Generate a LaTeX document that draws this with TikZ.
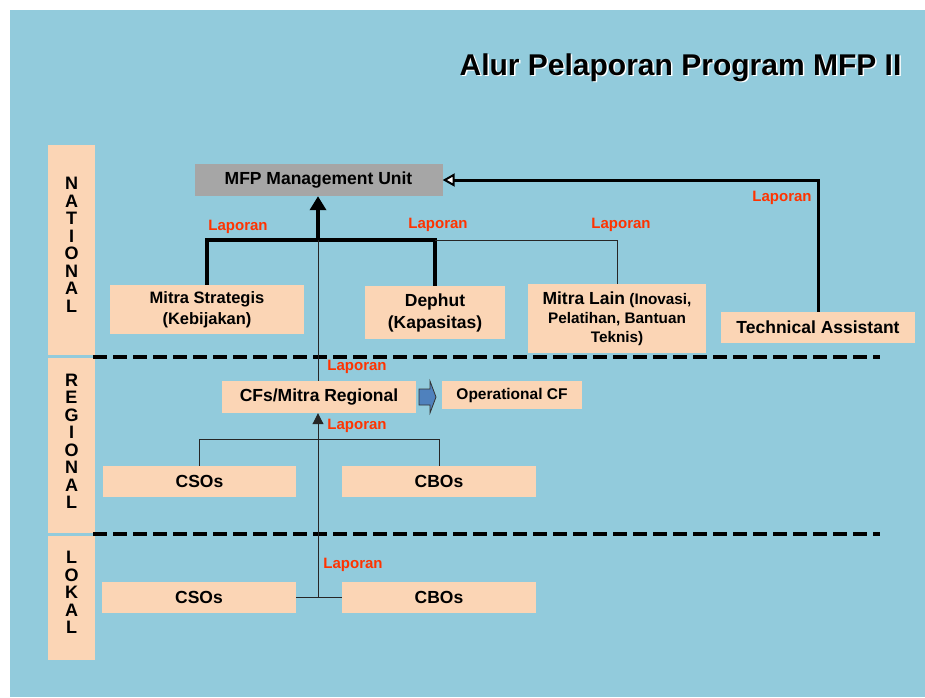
\documentclass[tikz,border=0pt]{standalone}
\usepackage{fontspec}
\setmainfont{Liberation Sans}
\usetikzlibrary{arrows.meta}
\definecolor{bgblue}{HTML}{92CBDC}
\definecolor{peach}{HTML}{FBD5B5}
\definecolor{mgray}{HTML}{A6A6A6}
\definecolor{lapred}{HTML}{FF3300}
\definecolor{opblue}{HTML}{4F81BD}
\begin{document}
\begin{tikzpicture}[x=1pt, y=-1pt]
    % Define styles
    \tikzstyle{box} = [fill=peach, inner sep=0pt, align=center, font=\fontsize{17.5}{22}\selectfont\bfseries]
    \tikzstyle{levelbox} = [fill=peach, inner sep=0pt, minimum width=47pt]
    \tikzstyle{levelname} = [align=center, inner sep=0pt, font=\fontsize{18}{17.5}\selectfont\bfseries]
    \tikzstyle{laporan} = [text=lapred, inner sep=0pt, font=\fontsize{15}{18}\selectfont\bfseries]
    \tikzstyle{thickline} = [line width=4pt]
    \tikzstyle{thinline} = [line width=1pt, black!85]
    \tikzstyle{levelsep} = [line width=4pt, dash pattern=on 14pt off 6pt]

    % Background and title
    \useasboundingbox (0,0) rectangle (925,697);
    \fill[bgblue] (10,10) rectangle (925,697);
    \node[anchor=base, text=white, font=\fontsize{30}{36}\selectfont\bfseries] (titleshadow) at (682,76.5) {Alur Pelaporan Program MFP II};
    \node[anchor=base, font=\fontsize{30}{36}\selectfont\bfseries] (title) at (680.5,75) {Alur Pelaporan Program MFP II};

    % Level columns
    \node[levelbox, minimum height=210pt] (natbox) at (71.5,250) {};
    \node[levelname] (nattext) at (71.5,245) {N\\A\\T\\I\\O\\N\\A\\L};
    \node[levelbox, minimum height=175pt] (regbox) at (71.5,445.5) {};
    \node[levelname] (regtext) at (71.5,441.5) {R\\E\\G\\I\\O\\N\\A\\L};
    \node[levelbox, minimum height=124pt] (lokbox) at (71.5,598) {};
    \node[levelname] (loktext) at (71.5,592.5) {L\\O\\K\\A\\L};

    % Level separators
    \draw[levelsep] (93,357) -- (880,357);
    \draw[levelsep] (93,534) -- (880,534);

    % National level
    \node[box, fill=mgray, minimum width=248pt, minimum height=32pt] (mfp) at (318.5,180) {MFP Management Unit};
    \node[box, minimum width=194pt, minimum height=49pt, font=\fontsize{16.5}{21}\selectfont\bfseries] (strat) at (207,309.5) {Mitra Strategis\\(Kebijakan)};
    \node[box, minimum width=140pt, minimum height=53pt] (dephut) at (435,312.5) {Dephut\\(Kapasitas)};
    \node[box, minimum width=178pt, minimum height=69pt, font=\fontsize{15.3}{19}\selectfont\bfseries] (mlain) at (617,318.5) {{\fontsize{17.5}{19}\selectfont Mitra Lain} (Inovasi,\\Pelatihan, Bantuan\\Teknis)};
    \node[box, minimum width=194pt, minimum height=31pt] (ta) at (818,327.5) {Technical Assistant};

    % Regional level
    \node[box, minimum width=194pt, minimum height=32pt] (cfs) at (319,397) {CFs/Mitra Regional};
    \node[box, minimum width=140pt, minimum height=28pt, font=\fontsize{15.5}{18}\selectfont\bfseries] (opcf) at (512,395) {Operational CF};
    \node[box, minimum width=193pt, minimum height=31pt] (csoreg) at (199.5,481.5) {CSOs};
    \node[box, minimum width=194pt, minimum height=31pt] (cboreg) at (439,481.5) {CBOs};

    % Local level
    \node[box, minimum width=194pt, minimum height=31pt] (csolok) at (199,597.5) {CSOs};
    \node[box, minimum width=194pt, minimum height=31pt] (cbolok) at (439,597.5) {CBOs};

    % Junctions
    \coordinate (topjoin) at (318,240);
    \coordinate (regjoin) at (318,439);
    \coordinate (lokjoin) at (318,597.5);

    % Reports to the management unit
    \draw[thickline] (strat.north) |- (topjoin) -| (dephut.north);
    \draw[thickline, -{Triangle[width=16pt, length=14pt]}] (topjoin) -- (mfp.south -| topjoin);
    \draw[thinline] (dephut.north |- topjoin) -| (mlain.north);
    \draw[thinline] (cfs.north -| topjoin) -- (topjoin);
    \draw[line width=3pt, -{Triangle[width=13pt, length=12pt, fill=white, line width=2pt]}] (ta.north) |- (mfp.east);

    % Reports to the regional level
    \draw[thinline] (csoreg.north) |- (regjoin) -| (cboreg.north);
    \draw[thinline] (csolok.east) -- (cbolok.west);
    \draw[thinline, -{Triangle[width=11pt, length=11pt]}] (lokjoin) -- (cfs.south -| lokjoin);

    % Block arrow to operational CF
    \draw[fill=opblue, line width=0.8pt, draw=black!80] (419,389) -- (430,389) -- (430,381) -- (436,397) -- (430,413) -- (430,405) -- (419,405) -- cycle;

    % Laporan labels
    \node[laporan] (lap1) at (238,227) {Laporan};
    \node[laporan] (lap2) at (438,225) {Laporan};
    \node[laporan] (lap3) at (621,225) {Laporan};
    \node[laporan] (lap4) at (782,198) {Laporan};
    \node[laporan] (lap5) at (357,367) {Laporan};
    \node[laporan] (lap6) at (357,426) {Laporan};
    \node[laporan] (lap7) at (353,565) {Laporan};

\end{tikzpicture}
\end{document}
